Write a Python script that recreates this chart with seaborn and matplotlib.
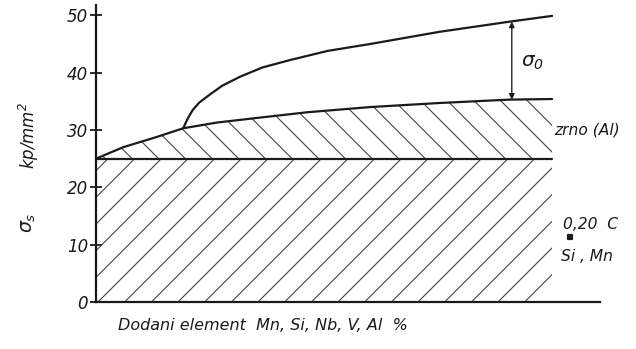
import numpy as np
import pandas as pd
import matplotlib
matplotlib.use("Agg")
import matplotlib.pyplot as plt
import seaborn as sns

# Base yield strength of the matrix (hatched "/" band)
base_x = [0.0, 90.5]
base_y = [25.0, 25.0]

# Contribution of grain refinement (Al) -> lower boundary curve
grain_x = [0.0, 5.4, 12.1, 17.3, 24.0, 31.9, 42.0, 54.4, 68.0, 82.1, 90.5]
grain_y = [25.0, 27.0, 28.8, 30.3, 31.3, 32.1, 33.1, 34.0, 34.7, 35.3, 35.4]

# Total yield strength including precipitation (sigma_0) -> upper curve
upper_x = [17.3, 18.2, 19.2, 20.5, 22.0, 25.0, 28.6, 33.0, 38.5, 46.0, 54.4, 68.0, 82.1, 90.5]
upper_y = [30.3, 32.0, 33.5, 34.8, 35.8, 37.7, 39.3, 40.9, 42.2, 43.8, 45.0, 47.1, 48.9, 49.9]

yticks = [0, 10, 20, 30, 40, 50]
arrow_x = 82.5

DPI = 160
INK = "#1a1a1a"
sns.set_style("white")
plt.rcParams["font.family"] = ["DejaVu Sans"]
plt.rcParams["font.style"] = "italic"
plt.rcParams["hatch.linewidth"] = 0.45
plt.rcParams["hatch.color"] = "#333333"

fig = plt.figure(figsize=(636 / DPI, 349 / DPI), dpi=DPI)
ax = fig.add_axes([96 / 636, 47 / 349, 504 / 636, 297 / 349])

# hatched regions
ax.fill_between(base_x, 0, base_y, facecolor="none", edgecolor="#333333",
                linewidth=0, hatch="//")
ax.fill_between(grain_x, base_y[0], grain_y, facecolor="none", edgecolor="#333333",
                linewidth=0, hatch="\\\\")

lines = pd.concat([
    pd.DataFrame({"x": base_x, "y": base_y, "k": "base"}),
    pd.DataFrame({"x": grain_x, "y": grain_y, "k": "grain"}),
    pd.DataFrame({"x": upper_x, "y": upper_y, "k": "upper"}),
])
sns.lineplot(data=lines, x="x", y="y", units="k", estimator=None, sort=False,
             color=INK, linewidth=1.0, ax=ax, legend=False)

# sigma_0 span
top = upper_y[-2]
bot = grain_y[-2]
ax.annotate("", xy=(arrow_x, top), xytext=(arrow_x, bot),
            arrowprops=dict(arrowstyle="<|-|>", color=INK, lw=0.6,
                            mutation_scale=5, shrinkA=0, shrinkB=0))
ax.text(84.3, 41.8, r"$\sigma_0$", fontsize=9, va="center", ha="left", color=INK)

ax.text(90.8, 30.0, "zrno (Al)", fontsize=7, va="center", ha="left", color=INK)
ax.text(92.6, 13.6, "0,20  C", fontsize=7, va="center", ha="left", color=INK)
ax.scatter([94.0], [11.3], s=5, marker="s", color=INK, clip_on=False)
ax.text(92.2, 8.0, "Si , Mn", fontsize=7, va="center", ha="left", color=INK)

ax.set_xlim(0, 100)
ax.set_ylim(0, 51.8)
ax.set_yticks(yticks)
ax.set_yticklabels([str(t) for t in yticks], fontsize=7.5, color=INK)
ax.set_xticks([])
ax.tick_params(axis="y", direction="inout", length=5, width=0.8, pad=1,
               color=INK, left=True)
for side in ["top", "right"]:
    ax.spines[side].set_visible(False)
for side in ["left", "bottom"]:
    ax.spines[side].set_linewidth(1.0)
    ax.spines[side].set_color(INK)

ax.set_xlabel("")
ax.set_ylabel("")
fig.text(118 / 636, 1 - 326 / 349, "Dodani element  Mn, Si, Nb, V, Al  %",
         fontsize=7.2, ha="left", va="center", color=INK)
fig.text(29 / 636, 1 - 135 / 349, r"kp/mm$^2$", fontsize=7.5, rotation=90,
         ha="center", va="center", color=INK)
fig.text(29 / 636, 1 - 223 / 349, r"$\sigma_s$", fontsize=8.5, rotation=90,
         ha="center", va="center", color=INK)

fig.savefig("out.png", dpi=DPI)
